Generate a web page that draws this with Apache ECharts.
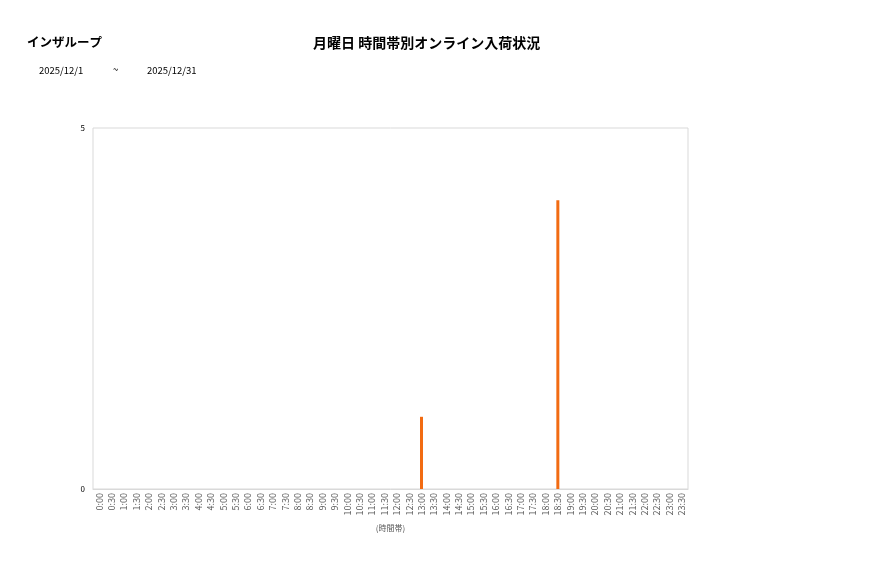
<!DOCTYPE html>
<html><head><meta charset="utf-8">
<script src="https://cdn.jsdelivr.net/npm/echarts@6/dist/echarts.min.js"></script>
<style>html,body{margin:0;padding:0;background:#fff}#c{width:877px;height:578px}</style>
</head><body><div id="c"></div>
<script>
const categories = ["0:00","0:30","1:00","1:30","2:00","2:30","3:00","3:30","4:00","4:30","5:00","5:30","6:00","6:30","7:00","7:30","8:00","8:30","9:00","9:30","10:00","10:30","11:00","11:30","12:00","12:30","13:00","13:30","14:00","14:30","15:00","15:30","16:00","16:30","17:00","17:30","18:00","18:30","19:00","19:30","20:00","20:30","21:00","21:30","22:00","22:30","23:00","23:30"];
const values = [0,0,0,0,0,0,0,0,0,0,0,0,0,0,0,0,0,0,0,0,0,0,0,0,0,0,1,0,0,0,0,0,0,0,0,0,0,4,0,0,0,0,0,0,0,0,0,0];
const storeName = "インザループ";
const chartTitle = "月曜日 時間帯別オンライン入荷状況";
const dateFrom = "2025/12/1";
const dateTo = "2025/12/31";
const xAxisName = "(時間帯)";

const font = "'Noto Sans CJK JP', 'Noto Sans', sans-serif";
const chart = echarts.init(document.getElementById('c'), null, {renderer:'canvas'});
chart.setOption({
  animation:false,
  textStyle:{fontFamily:font},
  title:[
    {text:storeName, left:27, top:36, padding:0, textStyle:{fontSize:12.5, fontWeight:'bold', color:'#000', fontFamily:font}},
    {text:chartTitle, left:313, top:36, padding:0, textStyle:{fontSize:14, fontWeight:'bold', color:'#000', fontFamily:font}},
    {text:dateFrom, left:39, top:66, padding:0, textStyle:{fontSize:9.5, fontWeight:'normal', color:'#000', fontFamily:font}},
    {text:"~", left:113, top:65, padding:0, textStyle:{fontSize:9.5, fontWeight:'normal', color:'#000', fontFamily:font}},
    {text:dateTo, left:147, top:66, padding:0, textStyle:{fontSize:9.5, fontWeight:'normal', color:'#000', fontFamily:font}}
  ],
  grid:{left:93, right:189, top:128, bottom:89, show:true, borderColor:'#d9d9d9', borderWidth:1},
  xAxis:{type:'category', data:categories,
    name:xAxisName, nameLocation:'middle', nameGap:35,
    nameTextStyle:{fontSize:8, color:'#595959'},
    axisLine:{lineStyle:{color:'#d9d9d9'}}, axisTick:{show:false},
    axisLabel:{rotate:90, interval:0, fontSize:9, color:'#595959', margin:4}},
  yAxis:{type:'value', min:0, max:5, interval:5,
    axisLine:{show:false}, axisTick:{show:false}, splitLine:{show:false},
    axisLabel:{fontSize:8, color:'#000', margin:8}},
  series:[{type:'bar', data:values, barWidth:3, itemStyle:{color:'#F26B12'}}]
});
</script></body></html>
